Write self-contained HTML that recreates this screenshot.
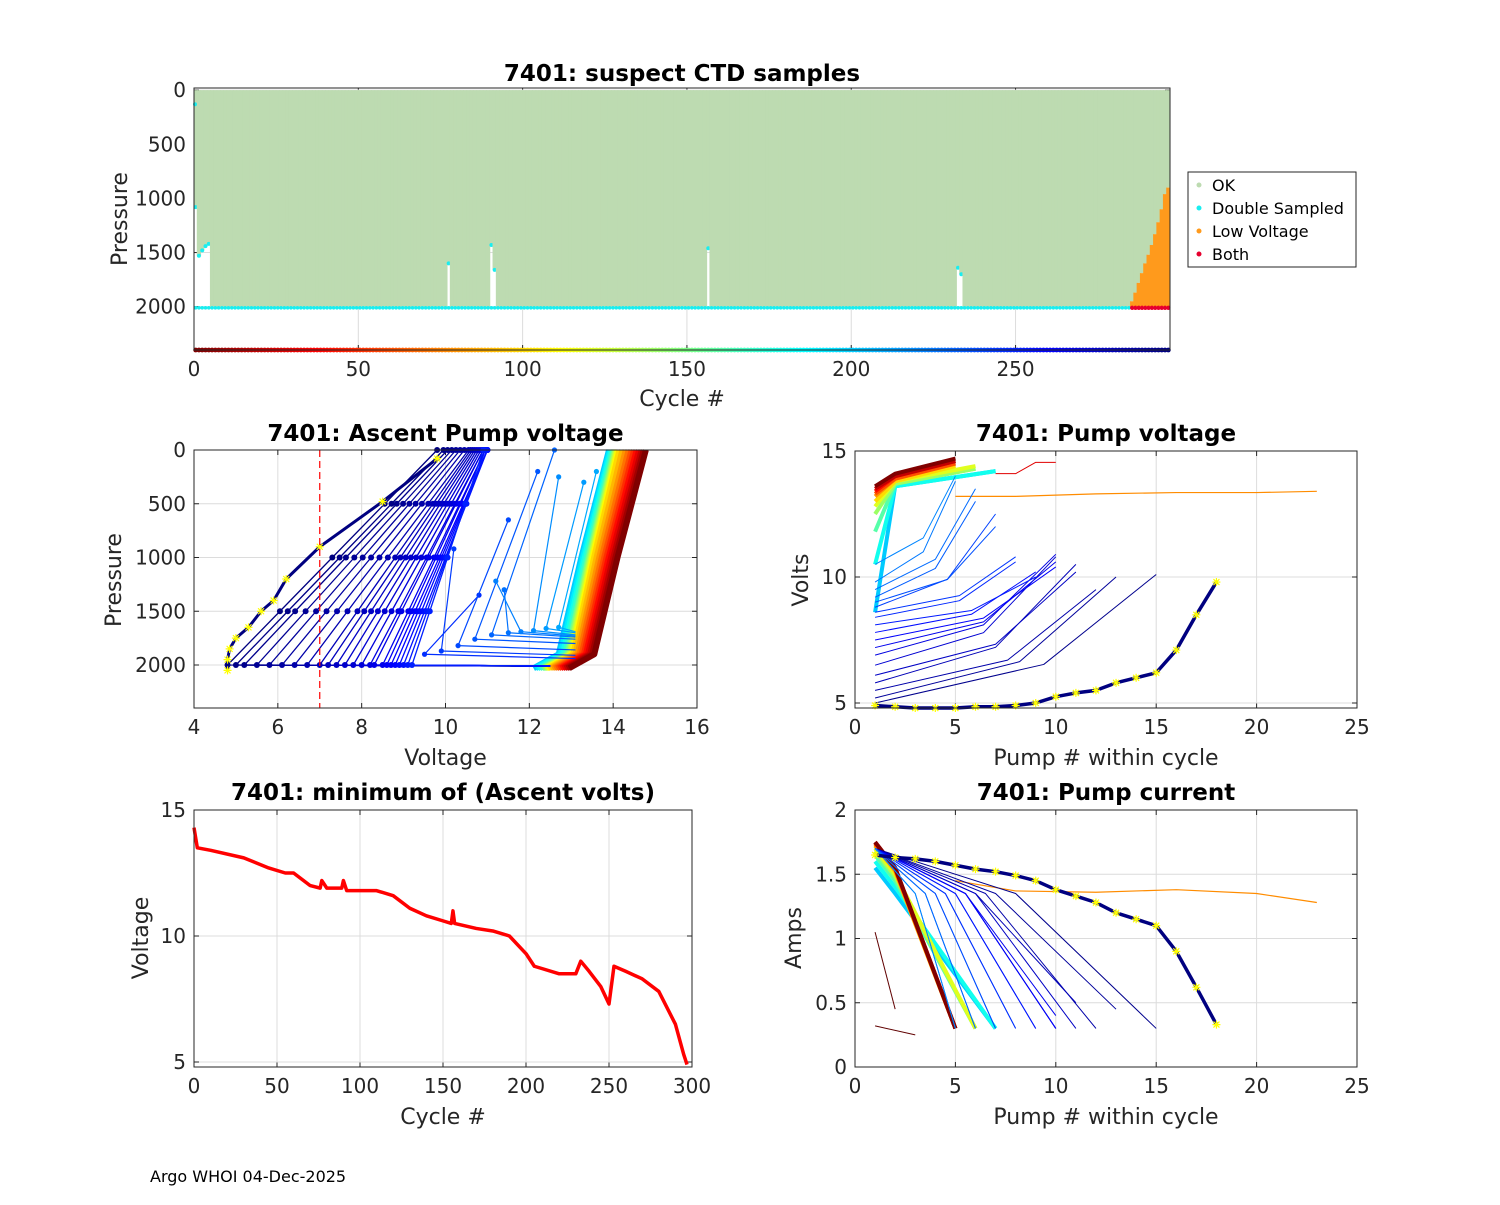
<!DOCTYPE html>
<html><head><meta charset="utf-8"><style>
body{margin:0;background:#fff;width:1500px;height:1200px;overflow:hidden}
svg{font-family:"DejaVu Sans","Liberation Sans",sans-serif}
</style></head><body>
<svg id="fig" width="1500" height="1200" xmlns="http://www.w3.org/2000/svg">
<text x="150" y="1182" font-size="16" fill="#000">Argo WHOI 04-Dec-2025</text>
</svg>
<script>
// ===== DATA: top panel (suspect CTD samples) =====
const nCycles = 297;
const startCycles = [0,1,2,3,4];
const startTops = [1080,1530,1480,1440,1420];
const gapCycles = [77,90,91,156,232,233];
const gapTops = [1600,1430,1660,1460,1640,1700];
const lowCycles = [285,286,287,288,289,290,291,292,293,294,295,296];
const lowTops = [1950,1870,1780,1690,1600,1520,1430,1330,1220,1100,960,900];
const topXTicks = [0,50,100,150,200,250];
const topYTicks = [0,500,1000,1500,2000];
// ===== DATA: ascent pump voltage profiles =====
const navyCycles = [296,294,292,290,288,286,284,282,280,278,276,274,272,270,268,266,264,262,260,258,256,254,252,250];
const navyBottomV = [4.8,5.0,5.2,5.5,5.8,6.1,6.4,6.7,7.0,7.2,7.4,7.6,7.8,8.0,8.2,8.3,8.5,8.6,8.7,8.8,8.9,9.0,9.1,9.2];
const navyTopV = [9.8,9.95,10.05,10.15,10.25,10.35,10.45,10.55,10.6,10.65,10.7,10.75,10.8,10.85,10.9,10.9,10.95,10.95,11.0,11.0,11.0,11.0,10.95,10.9];
const blueCycles = [246,242,238,234,230,226,222,218,214,210];
const blueBottomV = [9.5,9.9,10.3,10.7,11.1,11.5,11.8,12.1,12.4,12.7];
const blueBottomP = [1900,1870,1820,1760,1720,1700,1690,1680,1660,1650];
const blueTopV = [10.8,10.2,11.5,12.2,12.6,11.4,11.2,12.7,13.3,13.6];
const blueTopP = [1350,920,650,200,0,1300,1220,250,300,200];
const bandCycles = [200,190,180,170,160,150,140,130,120,110,100,90,80,70,60,50,40,30,20,10,0];
const bandBottomV = [12.7,12.75,12.8,12.85,12.9,12.92,12.95,12.97,13.0,13.02,13.05,13.1,13.15,13.2,13.25,13.3,13.35,13.4,13.45,13.5,13.55];
const bandTopV = [13.9,13.93,13.96,13.99,14.02,14.04,14.06,14.08,14.1,14.12,14.15,14.22,14.3,14.37,14.44,14.5,14.56,14.62,14.68,14.73,14.78];
const lastPressures = [2050,1950,1850,1750,1650,1500,1400,1200,900,480,80];
const lastVolts = [4.8,4.8,4.85,5.0,5.3,5.6,5.9,6.2,7.0,8.5,9.8];
const mlXTicks = [4,6,8,10,12,14,16];
const mlYTicks = [0,500,1000,1500,2000];
// ===== DATA: pump voltage / current within cycle =====
const lastPumpVolts = [4.9,4.85,4.8,4.8,4.8,4.85,4.85,4.9,5.0,5.25,5.4,5.5,5.8,6.0,6.2,7.1,8.5,9.8];
const lastPumpAmps = [1.65,1.63,1.62,1.6,1.57,1.54,1.52,1.49,1.45,1.38,1.33,1.28,1.2,1.15,1.1,0.9,0.62,0.33];
const pvCycles = [292,288,284,280,276,272,268,264,260,256,252,248,244,240,236,232,228,224,220];
const pvStart = [5.0,5.2,5.5,5.8,6.1,6.5,6.9,7.2,7.5,7.8,8.1,8.4,8.6,8.8,9.0,9.2,9.5,9.8,10.5];
const pvEndPump = [15,13,12,11,11,10,10,10,10,9,9,8,8,7,7,6,6,5,5];
const pvEnd = [10.1,10.0,9.5,10.5,10.2,10.8,10.9,10.6,10.4,10.2,10.0,10.6,10.8,12.5,12.0,13.0,13.5,13.8,14.0];
const redCycles = [200,180,160,140,120,100,80,60,40,20,0];
const redStart = [8.6,10.5,11.8,12.5,12.8,13.0,13.2,13.3,13.4,13.5,13.6];
const redEndPump = [7,7,6,6,6,5,5,5,5,5,5];
const redEnd = [14.2,14.2,14.3,14.3,14.4,14.4,14.5,14.5,14.6,14.6,14.7];
const orangePumps = [5,8,12,16,20,23];
const orangeVolts = [13.2,13.2,13.3,13.35,13.35,13.4];
const orangeAmps = [1.45,1.37,1.36,1.38,1.35,1.28];
const paStart = [1.7,1.7,1.7,1.7,1.7,1.7,1.7,1.7,1.7,1.7,1.7,1.7,1.7,1.7,1.7,1.7,1.7,1.7,1.7];
const paEnd = [0.3,0.45,0.3,0.5,0.3,0.3,0.3,0.4,0.3,0.3,0.3,0.3,0.3,0.3,0.3,0.3,0.3,0.3,0.3];
const redAmpStart = [1.55,1.6,1.65,1.68,1.7,1.72,1.73,1.74,1.75,1.75,1.75];
const redAmpEnd = [0.3,0.3,0.3,0.3,0.3,0.3,0.3,0.3,0.3,0.3,0.3];
const pXTicks = [0,5,10,15,20,25];
const pvYTicks = [5,10,15];
const paYTicks = [0,0.5,1,1.5,2];
const paYLabels = ['0','0.5','1','1.5','2'];
// ===== DATA: minimum ascent volts =====
const minCycles = [0,2,10,30,45,55,60,70,76,77,80,89,90,92,100,110,120,130,140,150,155,156,157,170,180,190,200,205,210,220,230,233,238,245,250,253,260,270,280,290,295,297];
const minVolts = [14.3,13.5,13.4,13.1,12.7,12.5,12.5,12.0,11.9,12.2,11.9,11.9,12.2,11.8,11.8,11.8,11.6,11.1,10.8,10.6,10.5,11.0,10.5,10.3,10.2,10.0,9.3,8.8,8.7,8.5,8.5,9.0,8.6,8.0,7.3,8.8,8.6,8.3,7.8,6.5,5.3,4.9];
const blXTicks = [0,50,100,150,200,250,300];
const blYTicks = [5,10,15];

const NS='http://www.w3.org/2000/svg';
const svg=document.getElementById('fig');
function el(tag,attrs,parent){const e=document.createElementNS(NS,tag);for(const k in attrs)e.setAttribute(k,attrs[k]);(parent||svg).appendChild(e);return e;}
function jet(c){const t=1-c/296;const cl=v=>Math.max(0,Math.min(1,v));const r=cl(1.5-Math.abs(4*t-3)),g=cl(1.5-Math.abs(4*t-2)),b=cl(1.5-Math.abs(4*t-1));return `rgb(${Math.round(r*255)},${Math.round(g*255)},${Math.round(b*255)})`;}

function axes(name,x0,y0,x1,y1,xt,xs,yt,ys,ylab,grid){
  const g=el('g',{});
  
  
  el('rect',{x:x0,y:y0,width:x1-x0,height:y1-y0,fill:'#fff'},g);
  xt.forEach(v=>{const x=xs(v);
    if(grid) el('line',{x1:x,x2:x,y1:y0,y2:y1,stroke:'#dcdcdc','stroke-width':1},g);
    el('line',{x1:x,x2:x,y1:y1,y2:y1-5,stroke:'#262626'},g);el('line',{x1:x,x2:x,y1:y0,y2:y0+5,stroke:'#262626'},g);
    const t=el('text',{x:x,y:y1+26,'font-size':20,'text-anchor':'middle',fill:'#262626'},g);t.textContent=v;
    });
  yt.forEach((v,i)=>{const y=ys(v);
    if(grid) el('line',{x1:x0,x2:x1,y1:y,y2:y,stroke:'#dcdcdc','stroke-width':1},g);
    el('line',{x1:x0,x2:x0+5,y1:y,y2:y,stroke:'#262626'},g);el('line',{x1:x1,x2:x1-5,y1:y,y2:y,stroke:'#262626'},g);
    const t=el('text',{x:x0-8,y:y+7,'font-size':20,'text-anchor':'end',fill:'#262626'},g);t.textContent=ylab?ylab[i]:v;
    });
  return g;
}
function frame(x0,y0,x1,y1){const r=el('rect',{x:x0,y:y0,width:x1-x0,height:y1-y0,fill:'none',stroke:'#262626','stroke-width':1});}
function label(txt,x,y,opts,name){const t=el('text',Object.assign({x:x,y:y,'text-anchor':'middle',fill:'#262626','font-size':22},opts||{}));t.textContent=txt;return t;}
function poly(pts,color,w,parent){return el('polyline',{points:pts.map(p=>p.join(',')).join(' '),fill:'none',stroke:color,'stroke-width':w||1,'stroke-linejoin':'round'},parent);}
function star(x,y,parent){const s=4;el('path',{d:`M${x-s},${y}H${x+s}M${x},${y-s}V${y+s}M${x-3},${y-3}L${x+3},${y+3}M${x-3},${y+3}L${x+3},${y-3}`,stroke:'#ffff00','stroke-width':1.2},parent);}
const TITLE={'font-weight':'bold','font-size':23,fill:'#000'};

// ===== TOP PANEL =====
(function(){
const X0=194,X1=1170,Y0=88,Y1=350;
const xs=c=>X0+c*(X1-X0)/297, ys=p=>Y0+(p+20)*(Y1-Y0)/2420;
axes('top-axes',X0,Y0,X1,Y1,topXTicks,xs,topYTicks,ys,null,true);
const g=el('g',{});
const w=(X1-X0)/297;
for(let c=0;c<nCycles;c++){
  let top=2000;
  let i=startCycles.indexOf(c); if(i>=0){top=startTops[i];}
  i=gapCycles.indexOf(c); if(i>=0){top=gapTops[i];}
  i=lowCycles.indexOf(c);
  if(i>=0){top=lowTops[i];}
  el('rect',{x:xs(c)-0.5,y:ys(0),width:w+1,height:ys(top)-ys(0),fill:'#bddbb1'},g);
  if(i>=0){el('rect',{x:xs(c)-0.5,y:ys(top),width:w+1,height:ys(2000)-ys(top),fill:'#ff9a1c'},g);
    el('circle',{cx:xs(c)+w/2,cy:ys(2010),r:2.2,fill:'#e6002e'},g);}
  else{el('circle',{cx:xs(c)+w/2,cy:ys(2010),r:1.8,fill:'#19eef0'},g);}
  if(top<2000&&i<0) el('circle',{cx:xs(c)+w/2,cy:ys(top),r:2,fill:'#19eef0'},g);
  el('circle',{cx:xs(c)+w/2,cy:ys(2400),r:2.4,fill:jet(c)},g);
}
el('circle',{cx:xs(0)+1,cy:ys(130),r:2,fill:'#19eef0'},g);
frame(X0,Y0,X1,Y1);
label('7401: suspect CTD samples',(X0+X1)/2,81,TITLE,'top-title');
label('Cycle #',(X0+X1)/2,406,{},'top-x-axis-title');
label('Pressure',121,(Y0+Y1)/2+6,{transform:`rotate(-90 121 ${(Y0+Y1)/2})`},'top-y-axis-title');
const lg=el('g',{});
el('rect',{x:1188,y:172,width:168,height:95,fill:'#fff',stroke:'#262626'},lg);
[['OK','#bddbb1'],['Double Sampled','#19eef0'],['Low Voltage','#ff9a1c'],['Both','#e6002e']].forEach((e,k)=>{
  const y=185+k*23;
  const it=el('g',{},lg);
  el('circle',{cx:1199,cy:y,r:2.5,fill:e[1]},it);
  const t=el('text',{x:1212,y:y+6,'font-size':16,fill:'#000'},it);t.textContent=e[0];
});
})();

// ===== MIDDLE LEFT: Ascent pump voltage =====
(function(){
const X0=194,X1=697,Y0=450,Y1=708;
const xs=v=>X0+(v-4)*(X1-X0)/12, ys=p=>Y0+p*215/2000;
axes('ascent-axes',X0,Y0,X1,Y1,mlXTicks,xs,mlYTicks,ys,null,true);
const g=el('g',{});
const P=[2000,1500,1000,500,0];
bandCycles.forEach((c,i)=>{
  const b=bandBottomV[i],t=bandTopV[i];
  const pts=[[xs(b-0.6),ys(2030)],[xs(b),ys(1900)],[xs(b+(t-b)*0.45),ys(1000)],[xs(t),ys(0)]];
  poly(pts,jet(c),6,g);
});
blueCycles.forEach((c,i)=>{
  const pts=[[xs(13.1),ys(blueBottomP[i]+40)],[xs(blueBottomV[i]),ys(blueBottomP[i])],[xs(blueTopV[i]),ys(blueTopP[i])]];
  poly(pts,jet(c),1.2,g);
  pts.slice(1).forEach(p=>el('circle',{cx:p[0],cy:p[1],r:2.6,fill:jet(c)},g));
});
navyCycles.forEach((c,i)=>{
  const b=navyBottomV[i],t=navyTopV[i];
  const pts=P.map(p=>[xs(b+(t-b)*(2000-p)/2000),ys(p)]);
  poly([[xs(12.5),ys(2010)]].concat(pts),jet(c),1.3,g);
  pts.forEach(p=>el('circle',{cx:p[0],cy:p[1],r:3,fill:jet(c)},g));
});
poly(lastVolts.map((v,i)=>[xs(v),ys(lastPressures[i])]),jet(296),3,g);
lastVolts.forEach((v,i)=>star(xs(v),ys(lastPressures[i]),g));
const d=el('line',{x1:xs(7),x2:xs(7),y1:Y0,y2:Y1,stroke:'#ff0000','stroke-dasharray':'7,4','stroke-width':1.2});

frame(X0,Y0,X1,Y1);
label('7401: Ascent Pump voltage',(X0+X1)/2,441,TITLE,'ascent-title');
label('Voltage',(X0+X1)/2,765,{},'ascent-x-axis-title');
label('Pressure',121,580,{transform:'rotate(-90 121 580)'},'ascent-y-axis-title');
})();

// ===== MIDDLE RIGHT: Pump voltage =====
(function(){
const X0=855,X1=1357,Y0=451,Y1=708;
const xs=n=>X0+n*(X1-X0)/25, ys=v=>Y0+(15-v)*126/5;
axes('pump-voltage-axes',X0,Y0,X1,Y1,pXTicks,xs,pvYTicks,ys,null,true);
const g=el('g',{});
redCycles.forEach((c,i)=>{
  const e=redEndPump[i];
  poly([[xs(1),ys(redStart[i])],[xs(2),ys(redEnd[i]-0.6)],[xs(e),ys(redEnd[i])]],jet(c),4,g);
});
poly([[xs(7),ys(14.1)],[xs(8),ys(14.1)],[xs(9),ys(14.55)],[xs(10),ys(14.55)]],'#e00000',1,g);
poly(orangePumps.map((n,i)=>[xs(n),ys(orangeVolts[i])]),'#ff8c00',1.2,g);
pvCycles.forEach((c,i)=>{
  const e=pvEndPump[i],s=pvStart[i],v=pvEnd[i];
  poly([[xs(1),ys(s)],[xs(1+(e-1)*0.6),ys(s+(v-s)*0.3)],[xs(e),ys(v)]],jet(c),1,g);
});
poly(lastPumpVolts.map((v,i)=>[xs(i+1),ys(v)]),jet(296),3.5,g);
lastPumpVolts.forEach((v,i)=>star(xs(i+1),ys(v),g));
frame(X0,Y0,X1,Y1);
label('7401: Pump voltage',(X0+X1)/2,441,TITLE,'pump-voltage-title');
label('Pump # within cycle',(X0+X1)/2,765,{},'pump-voltage-x-axis-title');
label('Volts',808,580,{transform:'rotate(-90 808 580)'},'pump-voltage-y-axis-title');
})();

// ===== BOTTOM LEFT: minimum ascent volts =====
(function(){
const X0=194,X1=692,Y0=810,Y1=1067;
const xs=c=>X0+c*(X1-X0)/300, ys=v=>Y0+(15-v)*126/5;
axes('min-volts-axes',X0,Y0,X1,Y1,blXTicks,xs,blYTicks,ys,null,true);
const l=poly(minCycles.map((c,i)=>[xs(c),ys(minVolts[i])]),'#ff0000',3.5);

frame(X0,Y0,X1,Y1);
label('7401: minimum of (Ascent volts)',(X0+X1)/2,800,TITLE,'min-volts-title');
label('Cycle #',(X0+X1)/2,1124,{},'min-volts-x-axis-title');
label('Voltage',148,938,{transform:'rotate(-90 148 938)'},'min-volts-y-axis-title');
})();

// ===== BOTTOM RIGHT: Pump current =====
(function(){
const X0=855,X1=1357,Y0=810,Y1=1067;
const xs=n=>X0+n*(X1-X0)/25, ys=a=>Y1-a*128.5;
axes('pump-current-axes',X0,Y0,X1,Y1,pXTicks,xs,paYTicks,ys,paYLabels,true);
const g=el('g',{});
redCycles.forEach((c,i)=>{
  const e=redEndPump[i];
  poly([[xs(1),ys(redAmpStart[i])],[xs(2),ys(redAmpStart[i]-0.2)],[xs(e),ys(redAmpEnd[i])]],jet(c),4,g);
});
poly([[xs(1),ys(1.05)],[xs(2),ys(0.45)]],'#600000',1,g);
poly([[xs(1),ys(0.32)],[xs(3),ys(0.25)]],'#600000',1,g);
poly(orangePumps.map((n,i)=>[xs(n),ys(orangeAmps[i])]),'#ff8c00',1.2,g);
pvCycles.forEach((c,i)=>{
  const e=pvEndPump[i];
  poly([[xs(1),ys(paStart[i])],[xs(1+(e-1)*0.5),ys(paStart[i]-0.35)],[xs(e),ys(paEnd[i])]],jet(c),1,g);
});
poly(lastPumpAmps.map((a,i)=>[xs(i+1),ys(a)]),jet(296),3.5,g);
lastPumpAmps.forEach((a,i)=>star(xs(i+1),ys(a),g));
frame(X0,Y0,X1,Y1);
label('7401: Pump current',(X0+X1)/2,800,TITLE,'pump-current-title');
label('Pump # within cycle',(X0+X1)/2,1124,{},'pump-current-x-axis-title');
label('Amps',801,938,{transform:'rotate(-90 801 938)'},'pump-current-y-axis-title');
})();
</script>
</body></html>
